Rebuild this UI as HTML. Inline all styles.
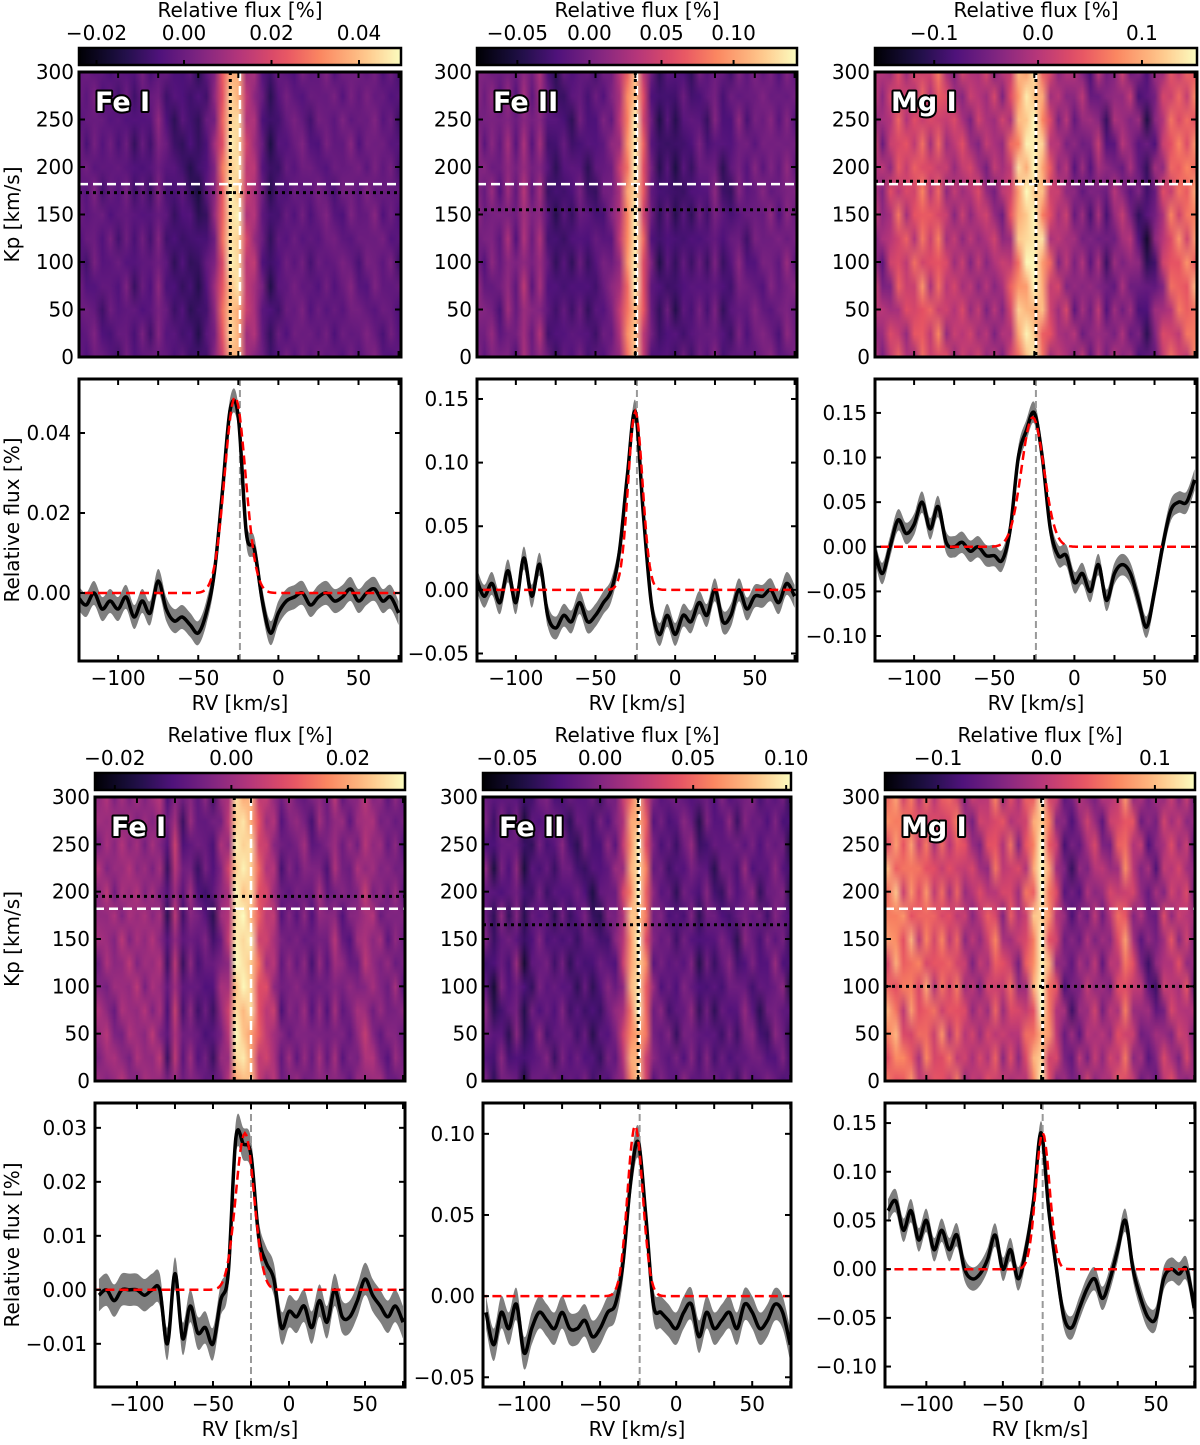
<!DOCTYPE html>
<html><head><meta charset="utf-8">
<style>
html,body{margin:0;padding:0;background:#fff;}
svg text{font-family:"DejaVu Sans","Liberation Sans",sans-serif;}
</style></head>
<body>
<svg id="fig" xmlns="http://www.w3.org/2000/svg" width="1200" height="1440" viewBox="0 0 1200 1440"></svg>
<script>
// ---- data ----
const rvGrid = [-125,-120,-115,-110,-105,-100,-95,-90,-85,-80,-75,-70,-65,-60,-55,-50,-45,-40,-35,-30,-25,-20,-15,-10,-5,0,5,10,15,20,25,30,35,40,45,50,55,60,65,70,75];
const feITopVals = [-0.001,-0.003,0,-0.004,-0.002,-0.004,-0.001,-0.006,-0.002,-0.005,0.003,-0.004,-0.007,-0.006,-0.008,-0.010,-0.005,0.005,0.025,0.046,0.044,0.015,0.011,-0.002,-0.010,-0.005,-0.002,-0.001,0.000,-0.003,-0.001,0.000,-0.002,-0.001,0.001,-0.002,0.000,0.001,-0.002,-0.001,-0.005];
const feIITopVals = [0.01,-0.005,0.005,-0.01,0.015,-0.01,0.025,-0.005,0.02,-0.02,-0.03,-0.02,-0.025,-0.01,-0.025,-0.02,-0.01,0.0,0.03,0.09,0.14,0.06,-0.01,-0.035,-0.02,-0.035,-0.02,-0.025,-0.01,-0.02,0.0,-0.025,-0.02,0.0,-0.015,-0.005,-0.005,0.0,-0.01,0.005,-0.005];
const mgITopVals = [0.0,-0.03,0.0,0.03,0.015,0.025,0.05,0.02,0.045,0.005,0.0,0.005,-0.005,0.0,-0.01,-0.01,-0.015,0.02,0.10,0.13,0.15,0.10,0.02,-0.01,-0.01,-0.04,-0.03,-0.05,-0.02,-0.06,-0.03,-0.02,-0.03,-0.06,-0.09,-0.05,0.0,0.04,0.05,0.05,0.075];
const feIBotVals = [-0.001,0.0,-0.002,0.0,0.0,0.0,-0.001,0.0,0.0,-0.01,0.003,-0.009,-0.003,-0.008,-0.007,-0.01,-0.002,0.003,0.028,0.027,0.025,0.01,0.005,0.002,-0.007,-0.004,-0.005,-0.003,-0.007,-0.002,-0.006,0.0,-0.005,-0.005,-0.002,0.002,-0.001,-0.003,-0.005,-0.003,-0.006];
const feIIBotVals = [-0.01,-0.03,-0.01,-0.02,-0.005,-0.035,-0.02,-0.01,-0.015,-0.02,-0.01,-0.02,-0.02,-0.015,-0.025,-0.02,-0.01,-0.005,0.02,0.07,0.095,0.05,-0.005,-0.01,-0.015,-0.02,-0.01,-0.005,-0.025,-0.01,-0.02,-0.015,-0.01,-0.02,-0.005,-0.01,-0.02,-0.015,-0.005,-0.01,-0.03];
const mgIBotVals = [0.06,0.07,0.04,0.06,0.03,0.05,0.02,0.04,0.02,0.035,0.0,-0.01,-0.005,0.01,0.035,0.0,0.02,-0.01,0.02,0.07,0.14,0.06,0.0,-0.05,-0.06,-0.04,-0.02,-0.01,-0.03,-0.01,0.02,0.05,0.0,-0.03,-0.05,-0.05,-0.01,0.0,-0.005,0.0,-0.04];
// fit params: amplitude, center, sigma
const fitAmp = [0.049,0.14,0.145,0.029,0.105,0.14];
const fitCenter = [-27,-25,-26,-29,-27,-24];
const fitSigma = [6.5,4.5,7,6,5,4.5];
// heatmap Kp rows
const kpGrid = [0,25,50,75,100,125,150,175,200,225,250,275,300];
const kpWeight = [0.8,0.9,0.95,1,1,1,1,1,1,1,0.95,0.9,0.85];
const texture = [0.2,-0.5,0.1,0.6,-0.3,-0.8,0.4,0.0,-0.2,0.7,-0.6,0.3,-0.1,0.5,-0.4,0.2,-0.7];
// markers
const whiteKp = [182,182,182,182,182,182];
const whiteRV = [-24,-24,-24,-25,-24,-24];
const dotKp = [173,155,185,195,165,100];
const dotRV = [-30,-25,-24,-36,-25,-24];
const labels = ["Fe I","Fe II","Mg I","Fe I","Fe II","Mg I"];
const cbTicks = [[-0.02,0,0.02,0.04],[-0.05,0,0.05,0.10],[-0.1,0,0.1],[-0.02,0,0.02],[-0.05,0,0.05,0.10],[-0.1,0,0.1]];
const cbTickLabels = [["\u22120.02","0.00","0.02","0.04"],["\u22120.05","0.00","0.05","0.10"],["\u22120.1","0.0","0.1"],["\u22120.02","0.00","0.02"],["\u22120.05","0.00","0.05","0.10"],["\u22120.1","0.0","0.1"]];
const yTicks = [[0,0.02,0.04],[-0.05,0,0.05,0.10,0.15],[-0.10,-0.05,0,0.05,0.10,0.15],[-0.01,0,0.01,0.02,0.03],[-0.05,0,0.05,0.10],[-0.10,-0.05,0,0.05,0.10,0.15]];
const yTickLabels = [["0.00","0.02","0.04"],["\u22120.05","0.00","0.05","0.10","0.15"],["\u22120.10","\u22120.05","0.00","0.05","0.10","0.15"],["\u22120.01","0.00","0.01","0.02","0.03"],["\u22120.05","0.00","0.05","0.10"],["\u22120.10","\u22120.05","0.00","0.05","0.10","0.15"]];
const xTicks = [-100,-50,0,50];
const xTickLabels = ["\u2212100","\u221250","0","50"];
const kpTicks = [0,50,100,150,200,250,300];

// ---- layout ----
const FS = 20;
const allVals = [feITopVals,feIITopVals,mgITopVals,feIBotVals,feIIBotVals,mgIBotVals];
const P = [
 {x0:79,x1:401,cb:[48,65],hm:[72,357],ln:[379,661],vr:[-0.024,0.0496],yr:[-0.017,0.0535],xr:[-124.4,76.5],band:0.003,tex:0.006},
 {x0:477,x1:797,cb:[48,65],hm:[72,357],ln:[379,661],vr:[-0.078,0.144],yr:[-0.0559,0.1657],xr:[-124.4,76.5],band:0.009,tex:0.02},
 {x0:875,x1:1197,cb:[48,65],hm:[72,357],ln:[379,661],vr:[-0.157,0.153],yr:[-0.128,0.188],xr:[-124.4,76.5],band:0.012,tex:0.05},
 {x0:95,x1:405,cb:[773,790],hm:[797,1081],ln:[1103,1387],vr:[-0.0234,0.0298],yr:[-0.018,0.0346],xr:[-127.6,76.3],band:0.003,tex:0.006},
 {x0:483,x1:791,cb:[773,790],hm:[797,1081],ln:[1103,1387],vr:[-0.063,0.1026],yr:[-0.056,0.119],xr:[-127,75.5],band:0.01,tex:0.02},
 {x0:885,x1:1195,cb:[773,790],hm:[797,1081],ln:[1103,1387],vr:[-0.149,0.137],yr:[-0.121,0.1706],xr:[-127,75.5],band:0.012,tex:0.05}
];
const magma = [[0,[0,0,4]],[0.13,[28,16,68]],[0.25,[79,18,123]],[0.38,[129,37,129]],[0.5,[181,54,122]],[0.63,[229,80,100]],[0.75,[251,135,97]],[0.88,[254,194,135]],[1,[252,253,191]]];
function cmap(t){t=Math.max(0,Math.min(1,t));for(let i=1;i<magma.length;i++){if(t<=magma[i][0]){const a=magma[i-1],b=magma[i];const f=(t-a[0])/(b[0]-a[0]);return a[1].map((v,k)=>Math.round(v+(b[1][k]-v)*f));}}return magma[magma.length-1][1];}

const NS="http://www.w3.org/2000/svg";
const svg=document.getElementById('fig');
function el(tag,attrs,parent){const e=document.createElementNS(NS,tag);for(const k in attrs)e.setAttribute(k,attrs[k]);(parent||svg).appendChild(e);return e;}
function txt(s,x,y,attrs,parent){const t=el('text',Object.assign({x:x,y:y,'font-size':FS,fill:'#000'},attrs),parent);t.textContent=s;return t;}

function catmull(pts){let d='M'+pts[0][0]+','+pts[0][1];for(let i=0;i<pts.length-1;i++){const p0=pts[Math.max(0,i-1)],p1=pts[i],p2=pts[i+1],p3=pts[Math.min(pts.length-1,i+2)];d+=' C'+(p1[0]+(p2[0]-p0[0])/6)+','+(p1[1]+(p2[1]-p0[1])/6)+' '+(p2[0]-(p3[0]-p1[0])/6)+','+(p2[1]-(p3[1]-p1[1])/6)+' '+p2[0]+','+p2[1];}return d;}

P.forEach((p,idx)=>{
 const vals=allVals[idx];
 const W=p.x1-p.x0;
 const xs=v=>p.x0+(v-p.xr[0])/(p.xr[1]-p.xr[0])*W;
 const g=el('g',{});
 
 
 // ---- colorbar ----
 const cbH=p.cb[1]-p.cb[0];
 const gid='cbgrad'+idx;
 const defs=el('defs',{},g);
 const lg=el('linearGradient',{id:gid,x1:0,x2:1,y1:0,y2:0},defs);
 for(let i=0;i<=20;i++){const c=cmap(i/20);el('stop',{offset:(i/20),'stop-color':'rgb('+c.join(',')+')'},lg);}
 const cb=el('rect',{x:p.x0,y:p.cb[0],width:W,height:cbH,fill:'url(#'+gid+')',stroke:'#000','stroke-width':2.5},g);
 
 
 const cbx=v=>p.x0+(v-p.vr[0])/(p.vr[1]-p.vr[0])*W;
 cbTicks[idx].forEach((v,k)=>{const x=cbx(v);el('line',{x1:x,x2:x,y1:p.cb[1],y2:p.cb[1]-5,stroke:'#000','stroke-width':2},g);
  const t=txt(cbTickLabels[idx][k],x,p.cb[0]-8,{'text-anchor':'middle'},g);
  
  });
 const cbl=txt('Relative flux [%]',p.x0+W/2,p.cb[0]-31,{'text-anchor':'middle'},g);
 
 
 // ---- heatmap ----
 const H=p.hm[1]-p.hm[0];
 const cv=document.createElement('canvas');cv.width=rvGrid.length;cv.height=kpGrid.length;
 const ctx=cv.getContext('2d');const img=ctx.createImageData(cv.width,cv.height);
 for(let j=0;j<kpGrid.length;j++){for(let i=0;i<rvGrid.length;i++){
   const v=vals[i]*kpWeight[j]+texture[(i+j)%texture.length]*p.tex;
   const c=cmap((v-p.vr[0])/(p.vr[1]-p.vr[0]));
   const o=((kpGrid.length-1-j)*cv.width+i)*4;img.data[o]=c[0];img.data[o+1]=c[1];img.data[o+2]=c[2];img.data[o+3]=255;}}
 ctx.putImageData(img,0,0);
 const big=document.createElement('canvas');big.width=W;big.height=H;const bc=big.getContext('2d');bc.imageSmoothingEnabled=true;
 const gx0=xs(rvGrid[0]),gx1=xs(rvGrid[rvGrid.length-1]);const dx=(gx1-gx0)/(rvGrid.length-1);
 bc.drawImage(cv,0,0,cv.width,cv.height,gx0-p.x0-dx/2,-H/(kpGrid.length-1)/2,dx*rvGrid.length,H*kpGrid.length/(kpGrid.length-1));
 const hm=el('image',{x:p.x0,y:p.hm[0],width:W,height:H,href:big.toDataURL(),preserveAspectRatio:'none'},g);
 
 
 const ky=k=>p.hm[1]-k/300*H;
 el('line',{x1:p.x0,x2:p.x1,y1:ky(whiteKp[idx]),y2:ky(whiteKp[idx]),stroke:'#fff','stroke-width':2.5,'stroke-dasharray':'9,5'},g);
 el('line',{x1:xs(whiteRV[idx]),x2:xs(whiteRV[idx]),y1:p.hm[0],y2:p.hm[1],stroke:'#fff','stroke-width':2.5,'stroke-dasharray':'9,5'},g);
 el('line',{x1:p.x0,x2:p.x1,y1:ky(dotKp[idx]),y2:ky(dotKp[idx]),stroke:'#000','stroke-width':3,'stroke-dasharray':'3,4'},g);
 el('line',{x1:xs(dotRV[idx]),x2:xs(dotRV[idx]),y1:p.hm[0],y2:p.hm[1],stroke:'#000','stroke-width':3,'stroke-dasharray':'3,4'},g);
 el('rect',{x:p.x0,y:p.hm[0],width:W,height:H,fill:'none',stroke:'#000','stroke-width':3},g);
 for(let v=-100;v<=75;v+=25){const x=xs(v);el('line',{x1:x,x2:x,y1:p.hm[1],y2:p.hm[1]-6,stroke:'#000','stroke-width':2},g);el('line',{x1:x,x2:x,y1:p.hm[0],y2:p.hm[0]+6,stroke:'#000','stroke-width':2},g);}
 kpTicks.forEach(k=>{const y=ky(k);el('line',{x1:p.x0,x2:p.x0+6,y1:y,y2:y,stroke:'#000','stroke-width':2},g);el('line',{x1:p.x1,x2:p.x1-6,y1:y,y2:y,stroke:'#000','stroke-width':2},g);
  const t=txt(String(k),p.x0-5,y+7,{'text-anchor':'end'},g);
  
  });
 const sp=txt(labels[idx],p.x0+16,p.hm[0]+39,{'font-size':27,'font-weight':'bold',fill:'#fff',stroke:'#000','stroke-width':4,'paint-order':'stroke','stroke-linejoin':'round'},g);
 
 
 // ---- line plot ----
 const LH=p.ln[1]-p.ln[0];
 const ys=v=>p.ln[1]-(v-p.yr[0])/(p.yr[1]-p.yr[0])*LH;
 const cid='clip'+idx;const cp=el('clipPath',{id:cid},defs);el('rect',{x:p.x0,y:p.ln[0],width:W,height:LH},cp);
 const lgp=el('g',{'clip-path':'url(#'+cid+')'},g);
 const up=rvGrid.map((r,i)=>[xs(r),ys(vals[i]+p.band)]);
 const lo=rvGrid.map((r,i)=>[xs(r),ys(vals[i]-p.band)]).reverse();
 const bandD=catmull(up)+' L'+lo[0][0]+','+lo[0][1]+catmull(lo).replace(/^M[^C]*/,' ')+' Z';
 const bd=el('path',{d:bandD,fill:'#7f7f7f',stroke:'none'},lgp);
 
 
 const vl=el('line',{x1:xs(whiteRV[idx]),x2:xs(whiteRV[idx]),y1:p.ln[0],y2:p.ln[1],stroke:'#999','stroke-width':2,'stroke-dasharray':'7,4'},lgp);
 
 
 const ln=el('path',{d:catmull(rvGrid.map((r,i)=>[xs(r),ys(vals[i])])),fill:'none',stroke:'#000','stroke-width':3.5},lgp);
 
 
 const fp=[];for(let r=-130;r<=80;r+=1){fp.push([xs(r),ys(fitAmp[idx]*Math.exp(-0.5*Math.pow((r-fitCenter[idx])/fitSigma[idx],2)))]);}
 const fl=el('path',{d:'M'+fp.map(q=>q[0].toFixed(1)+','+q[1].toFixed(1)).join(' L'),fill:'none',stroke:'#f00','stroke-width':2.5,'stroke-dasharray':'9,5'},lgp);
 
 
 el('rect',{x:p.x0,y:p.ln[0],width:W,height:LH,fill:'none',stroke:'#000','stroke-width':3},g);
 for(let v=-100;v<=75;v+=25){const x=xs(v);el('line',{x1:x,x2:x,y1:p.ln[1],y2:p.ln[1]-6,stroke:'#000','stroke-width':2},g);el('line',{x1:x,x2:x,y1:p.ln[0],y2:p.ln[0]+6,stroke:'#000','stroke-width':2},g);}
 xTicks.forEach((v,k)=>{const t=txt(xTickLabels[k],xs(v),p.ln[1]+24,{'text-anchor':'middle'},g);
  
  });
 yTicks[idx].forEach((v,k)=>{const y=ys(v);el('line',{x1:p.x0,x2:p.x0+6,y1:y,y2:y,stroke:'#000','stroke-width':2},g);el('line',{x1:p.x1,x2:p.x1-6,y1:y,y2:y,stroke:'#000','stroke-width':2},g);
  const t=txt(yTickLabels[idx][k],p.x0-8,y+7,{'text-anchor':'end'},g);
  
  });
 const xl=txt('RV [km/s]',p.x0+W/2,p.ln[1]+49,{'text-anchor':'middle'},g);
 
 
 if(idx%3===0){
  const cyh=(p.hm[0]+p.hm[1])/2;const cyl=(p.ln[0]+p.ln[1])/2;
  const a=txt('Kp [km/s]',19,cyh,{'text-anchor':'middle',transform:'rotate(-90 19 '+cyh+')'},g);
  
  
  const b=txt('Relative flux [%]',19,cyl,{'text-anchor':'middle',transform:'rotate(-90 19 '+cyl+')'},g);
  
  
 }
});
</script>
</body></html>
